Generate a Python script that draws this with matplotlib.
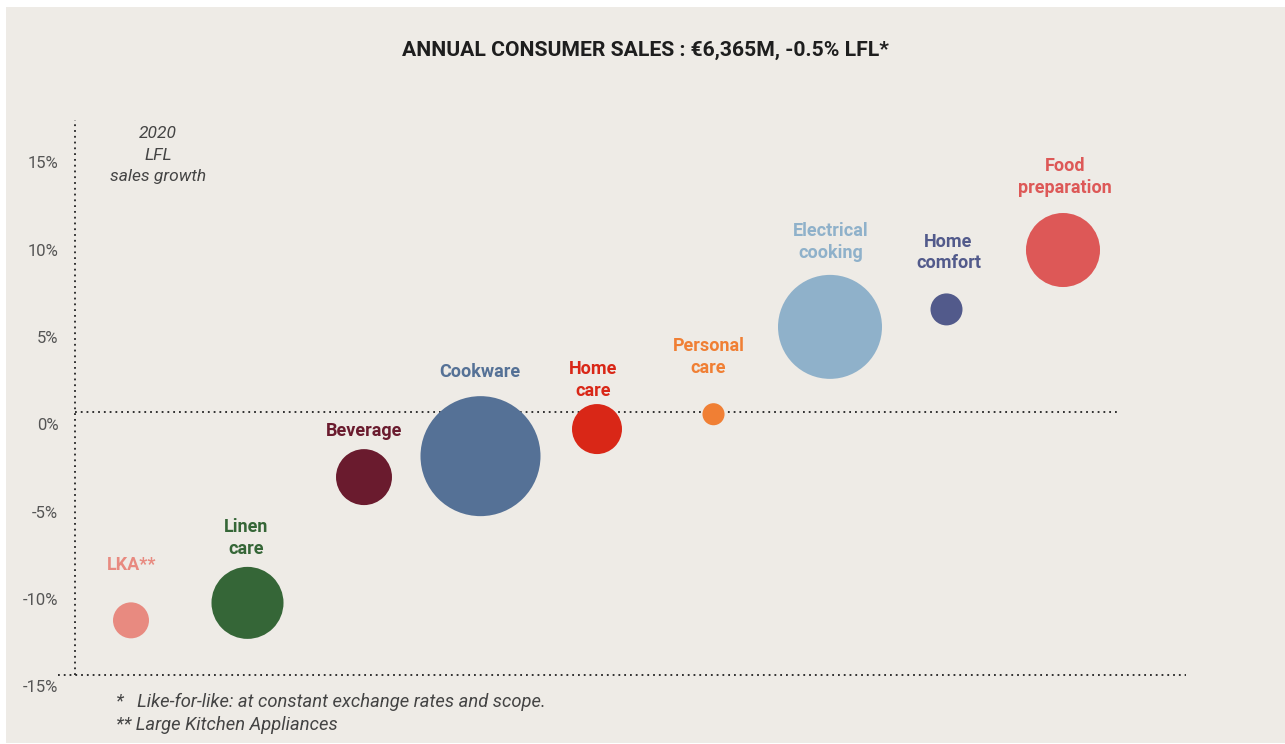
import matplotlib.pyplot as plt
from matplotlib.patches import Rectangle
from matplotlib.transforms import ScaledTranslation

# datos
categorias = ['LKA**', 'Linen\ncare', 'Beverage', 'Cookware', 'Home\ncare',
              'Personal\ncare', 'Electrical\ncooking', 'Home\ncomfort', 'Food\npreparation']
crecimiento = [-11.9, -10.9, -3.7, -2.5, -0.95, -0.1, 4.9, 5.9, 9.3]
ventas = [186, 745, 450, 2068, 359, 70, 1553, 147, 787]
colores = ['#E88A80', '#356637', '#6A1B2E', '#557196', '#D92717',
           '#F07F34', '#8FB1CA', '#525A8B', '#DD5857']
ticks_y = [-15, -10, -5, 0, 5, 10, 15]
tick_labels = ['-15%', '-10%', '-5%', '0%', '5%', '10%', '15%']

# desplazamiento de las etiquetas (pixeles, respecto al centro de la burbuja)
offs = [(1, 55), (-1, 65), (0, 46), (-1, 84), (-4, 49), (-5, 57), (1, 85), (2, 57), (2, 73)]

plt.rcParams['font.family'] = ['Roboto', 'DejaVu Sans']

fondo = '#EEEBE6'
W, H = 1285, 744
fig = plt.figure(figsize=(W / 100, H / 100), dpi=100, facecolor='white')
fig.patches.append(Rectangle((6 / W, 1 / H), 1 - 6 / W, 1 - 8 / H, transform=fig.transFigure,
                             facecolor=fondo, edgecolor='none', zorder=-10))

# ejes: izquierda 75px, derecha 1186px, arriba 120px, abajo 674.5px
ax = fig.add_axes([75 / W, 1 - 674.5 / H, (1186 - 75) / W, (674.5 - 120) / H])
ax.set_facecolor('none')
x0 = (75 - 131) / 116.5
x1 = (1186 - 131) / 116.5
ax.set_xlim(x0, x1)
ax.set_ylim(-15, (412.5 - 120) / 17.47)
for s in ax.spines.values():
    s.set_visible(False)
ax.set_xticks([])

ax.set_yticks(ticks_y)
ax.set_yticklabels(tick_labels)
ax.tick_params(axis='y', length=0, pad=12, labelsize=12, labelcolor='#555555')
for lab in ax.get_yticklabels():
    lab.set_transform(lab.get_transform() + ScaledTranslation(0, -0.12, fig.dpi_scale_trans))

punteado = dict(color='#222222', lw=1.3, linestyle=(0, (1, 2.2)), clip_on=False)
ax.plot([x0, x0], [-15, (412.5 - 120) / 17.47], **punteado)
ax.plot([x0, (1117 - 131) / 116.5], [0, 0], **punteado)
ax.plot([(58 - 131) / 116.5, x1], [-15, -15], **punteado)

xs = list(range(len(categorias)))
ax.scatter(xs, crecimiento, s=[v * 3.61 for v in ventas], c=colores, linewidths=0, zorder=3)

for i, cat in enumerate(categorias):
    ax.annotate(cat, (xs[i], crecimiento[i]), xytext=offs[i], textcoords='offset pixels',
                ha='center', va='center', fontsize=13, fontweight='bold', color=colores[i],
                linespacing=1.25)

fig.text(158 / W, 1 - 155 / H, '2020\nLFL\nsales growth', ha='center', va='center',
         fontsize=12.5, style='italic', color='#444444', linespacing=1.5)

fig.text(645 / W, 1 - 50 / H, 'ANNUAL CONSUMER SALES : €6,365M, -0.5% LFL*', ha='center',
         va='center', fontsize=15.2, fontweight='bold', color='#1e1e1e')

fig.text(116 / W, 1 - 702 / H, '*   Like-for-like: at constant exchange rates and scope.',
         ha='left', va='center', fontsize=13.2, style='italic', color='#444444')
fig.text(116 / W, 1 - 725 / H, '** Large Kitchen Appliances',
         ha='left', va='center', fontsize=13.2, style='italic', color='#444444')

fig.savefig('out.png', dpi=100, facecolor=fig.get_facecolor())
